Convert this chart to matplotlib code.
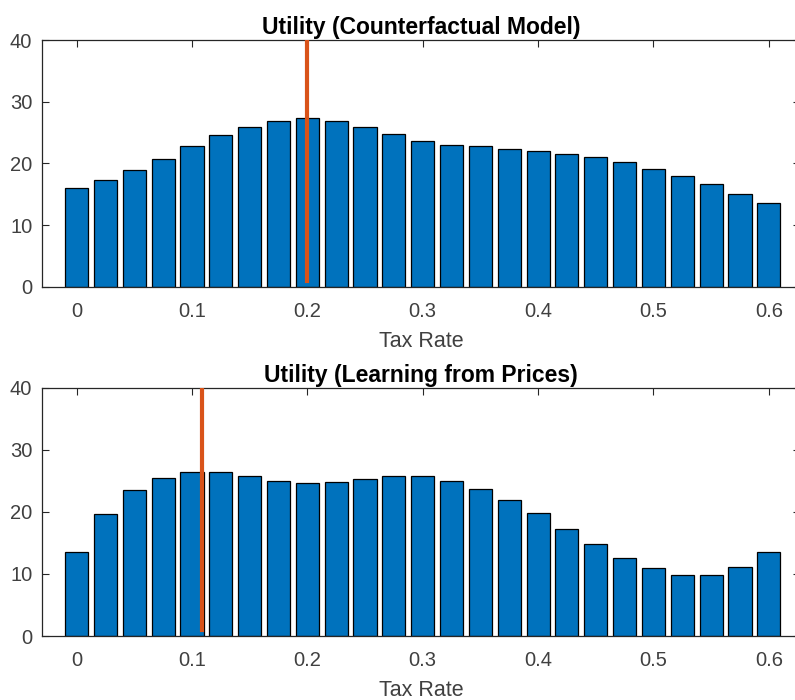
import numpy as np
import matplotlib
matplotlib.use("Agg")
import matplotlib.pyplot as plt

plt.rcParams["font.family"] = ["Liberation Sans", "DejaVu Sans"]

tax_rate = np.arange(25) * 0.025
util_cf = [16.0, 17.3, 18.9, 20.7, 22.8, 24.6, 25.9, 26.9, 27.4, 26.9, 25.9, 24.8, 23.7,
           23.0, 22.8, 22.3, 22.05, 21.6, 21.0, 20.3, 19.1, 18.0, 16.6, 15.1, 13.5]
util_lp = [13.5, 19.65, 23.5, 25.5, 26.4, 26.4, 25.7, 25.0, 24.6, 24.8, 25.3, 25.7, 25.7,
           25.0, 23.7, 21.85, 19.8, 17.3, 14.9, 12.6, 11.0, 9.9, 9.9, 11.05, 13.5]
opt_cf = 0.2
opt_lp = 0.109
titles = ["Utility (Counterfactual Model)", "Utility (Learning from Prices)"]

BLUE = "#0072BD"
ORANGE = "#D95319"
GREY = "#262626"

fig = plt.figure(figsize=(7.95, 7.0), dpi=100)
ax_top = fig.add_axes([0.0528, 0.5904, 0.9535, 0.3524])
ax_bot = fig.add_axes([0.0528, 0.0914, 0.9535, 0.3547])

for ax, vals, opt, title in zip([ax_top, ax_bot], [util_cf, util_lp],
                                [opt_cf, opt_lp], titles):
    ax.bar(tax_rate, vals, width=0.8 * 0.025, color=BLUE,
           edgecolor="black", linewidth=0.9, zorder=2)
    ax.plot([opt, opt], [1, 40], color=ORANGE, lw=3.0, zorder=3)
    ax.set_xlim(-0.03, 0.627)
    ax.set_ylim(0, 40)
    ax.set_xticks([0, 0.1, 0.2, 0.3, 0.4, 0.5, 0.6])
    ax.set_xticklabels(["0", "0.1", "0.2", "0.3", "0.4", "0.5", "0.6"])
    ax.set_yticks([0, 10, 20, 30, 40])
    ax.tick_params(direction="in", top=True, right=True, length=5, width=0.8,
                   colors=GREY, labelsize=14.5, labelcolor="#404040")
    ax.tick_params(axis="x", pad=11)
    ax.tick_params(axis="y", pad=7)
    for sp in ax.spines.values():
        sp.set_color(GREY)
        sp.set_linewidth(0.9)
    ax.set_xlabel("Tax Rate", fontsize=15.5, color="#404040", labelpad=7)
    ax.set_title(title, fontsize=16.5, fontweight="bold", color="black", pad=4)

fig.savefig("out.png", dpi=100)
